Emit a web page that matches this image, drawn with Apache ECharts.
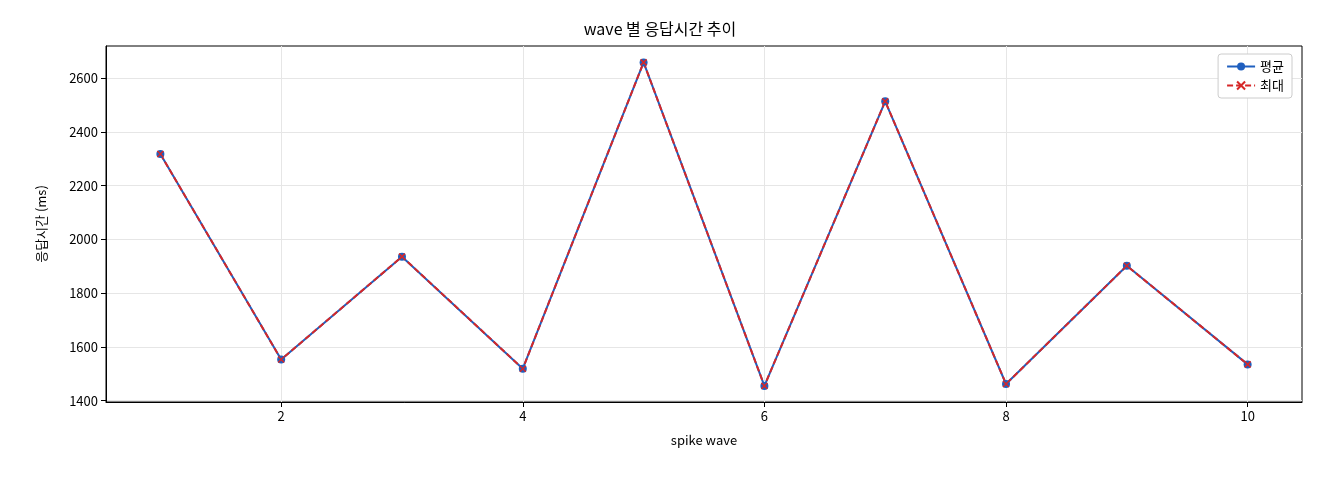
<!DOCTYPE html>
<html><head><meta charset="utf-8">
<script src="https://cdn.jsdelivr.net/npm/echarts@6/dist/echarts.min.js"></script>
<style>html,body{margin:0;padding:0;background:#fff}#c{width:1320px;height:480px}</style>
</head><body><div id="c"></div>
<script>
const waves=[1,2,3,4,5,6,7,8,9,10];
const avgVals=[2318,1553,1936,1519,2659,1455,2514,1462,1902,1535];
const maxVals=[2318,1553,1936,1519,2659,1455,2514,1462,1902,1535];
const xTicks=[2,4,6,8,10];
const yTicks=[1400,1600,1800,2000,2200,2400,2600];
const F='"Noto Sans CJK KR","DejaVu Sans",sans-serif';
const ch=echarts.init(document.getElementById('c'));
ch.setOption({
 animation:false,
 title:{text:'wave 별 응답시간 추이',left:'center',top:16,textStyle:{fontFamily:F,fontSize:16,fontWeight:'normal',color:'#000'}},
 grid:{left:106,right:18,top:46,bottom:78,show:true,borderColor:'#000',borderWidth:1},
 legend:{right:28,top:54,orient:'vertical',itemGap:6,backgroundColor:'#fff',borderColor:'#ccc',borderWidth:1,borderRadius:3,padding:[6,8],
   textStyle:{fontFamily:F,fontSize:13,color:'#000'},itemWidth:28,itemHeight:10,
   data:[{name:'평균'},{name:'최대'}]},
 xAxis:{type:'value',min:0.55,max:10.45,
   axisTick:{show:true,customValues:xTicks,lineStyle:{color:'#000'}},
   axisLabel:{fontFamily:F,fontSize:13,color:'#000',customValues:xTicks,formatter:v=>String(v)},
   splitLine:{show:true,lineStyle:{color:'#e6e6e6'}},
   axisLine:{lineStyle:{color:'#000'}},
   name:'spike wave',nameLocation:'middle',nameGap:32,nameTextStyle:{fontFamily:F,fontSize:13,color:'#000'}},
 yAxis:{type:'value',min:1395,max:2720,
   axisLabel:{fontFamily:F,fontSize:13,color:'#000',customValues:yTicks,formatter:v=>String(v)},
   axisTick:{show:true,customValues:yTicks,lineStyle:{color:'#000'}},
   splitLine:{show:true,lineStyle:{color:'#e6e6e6'}},
   axisLine:{show:true,lineStyle:{color:'#000'}},
   name:'응답시간 (ms)',nameLocation:'middle',nameGap:58,nameTextStyle:{fontFamily:F,fontSize:13,color:'#000'}},
 series:[
  {name:'평균',type:'line',data:waves.map((w,i)=>[w,avgVals[i]]),symbol:'circle',symbolSize:8,
   itemStyle:{color:'#1f5fbf'},lineStyle:{color:'#1f5fbf',width:2}},
  {name:'최대',type:'line',data:waves.map((w,i)=>[w,maxVals[i]]),
   symbol:'path://M0,0L10,10M10,0L0,10',symbolSize:6,
   itemStyle:{color:'#d62728',borderColor:'#d62728',borderWidth:1.5},lineStyle:{color:'#d62728',width:2,type:[6,3]}}
 ]
});
</script></body></html>
